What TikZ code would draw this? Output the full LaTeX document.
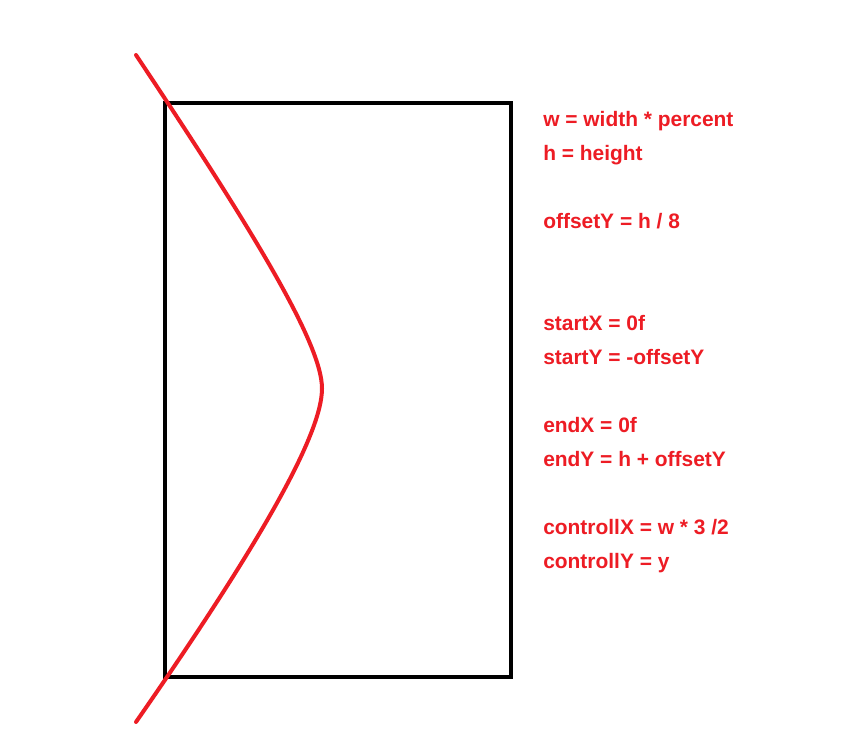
\documentclass[tikz,border=0pt]{standalone}
\usepackage{fontspec}
\setmainfont{Liberation Sans}
\definecolor{paintred}{RGB}{237,28,36}
\begin{document}
\begin{tikzpicture}[x=0.75pt,y=-0.75pt,
  frame/.style={line width=3pt,draw=black},
  curve/.style={line width=3pt,draw=paintred,line cap=round},
  formula/.style={anchor=base west,inner sep=0pt,text=paintred,font=\fontsize{15.7pt}{18pt}\selectfont\bfseries}]
\useasboundingbox[fill=white] (0,0) rectangle (844,730);
\draw[frame] (165,103) rectangle (511,677);
\coordinate (s) at (136,55);
\coordinate (m) at (322,388.5);
\coordinate (e) at (136,722);
\draw[curve] (s) .. controls (258,238) and (322,345) .. (m)
  .. controls (322,433) and (264,538) .. (e);
\node[formula] (l1) at (543,126.5) {w = width * percent};
\node[formula] (l2) at (543,160.5) {h = height};
\node[formula] (l3) at (543,228.5) {offsetY = h / 8};
\node[formula] (l4) at (543,330.5) {startX = 0f};
\node[formula] (l5) at (543,364.5) {startY = -offsetY};
\node[formula] (l6) at (543,432.5) {endX = 0f};
\node[formula] (l7) at (543,466.5) {endY = h + offsetY};
\node[formula] (l8) at (543,534.5) {controllX = w * 3 /2};
\node[formula] (l9) at (543,568.5) {controllY = y};
\end{tikzpicture}
\end{document}
